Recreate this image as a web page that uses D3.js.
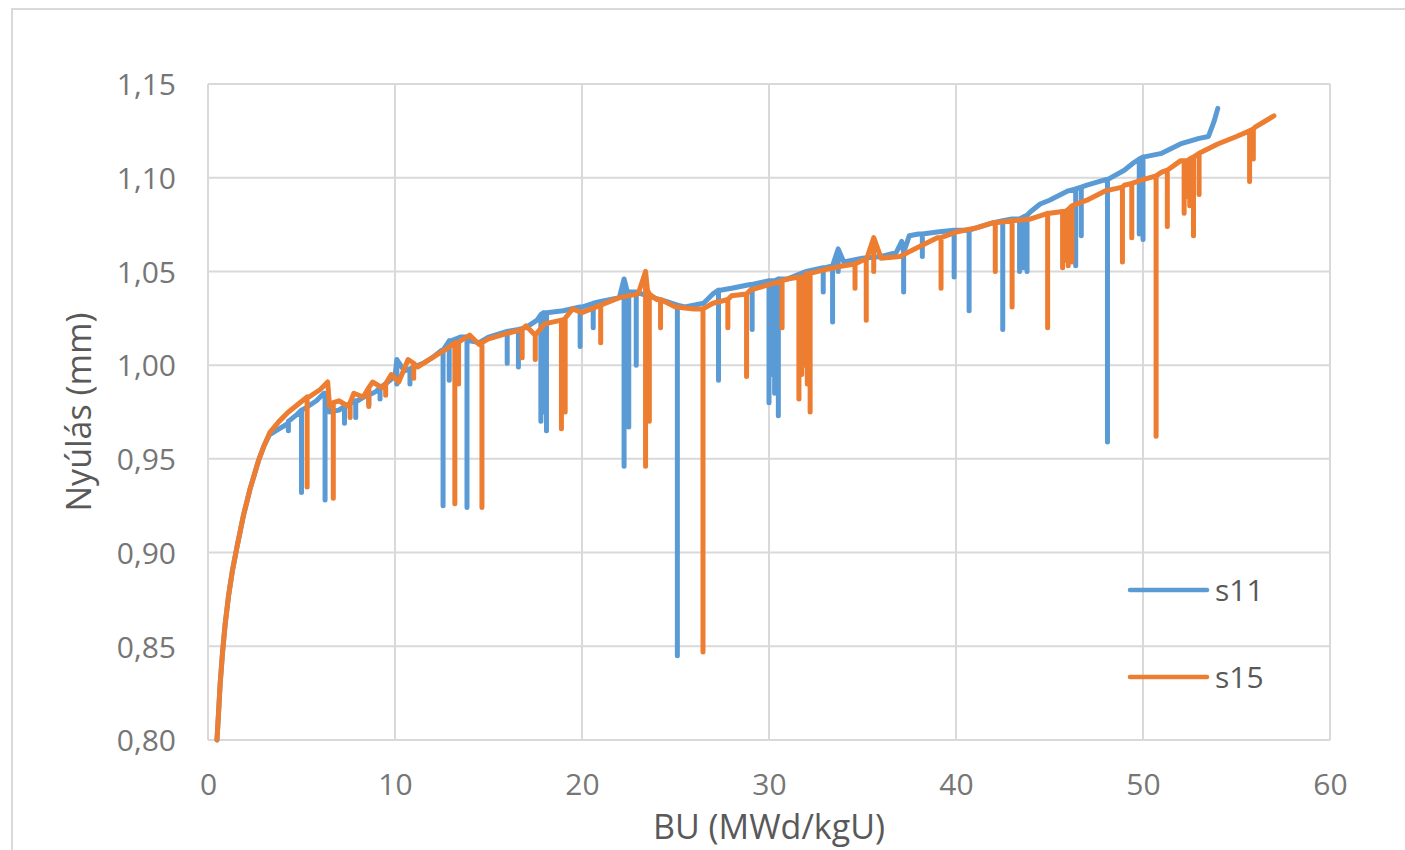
<!DOCTYPE html>
<html>
<head>
<meta charset="utf-8">
<script src="https://cdn.jsdelivr.net/npm/d3@7"></script>
<style>
    body { margin: 0; background: white; }
    text { font-family: "Open Sans", sans-serif; }
</style>
</head>
<body>
<div id="chart"></div>
<script>
// tick values
var xTicks = [0, 10, 20, 30, 40, 50, 60];
var yTicks = [0.80, 0.85, 0.90, 0.95, 1.00, 1.05, 1.10, 1.15];

var seriesNames = ["s11", "s15"];

// s11: smooth run of the curve, then the drops [x, top, bottom]
var s11Base = [
    [0.48, 0.800], [0.55, 0.812], [0.65, 0.830], [0.78, 0.847], [0.92, 0.862], [1.1, 0.877],
    [1.3, 0.890], [1.55, 0.903], [1.9, 0.920], [2.25, 0.934], [2.7, 0.949], [3.0, 0.957],
    [3.3, 0.963], [3.8, 0.966], [4.3, 0.969], [4.8, 0.974], [5.2, 0.977], [5.8, 0.981],
    [6.2, 0.985], [6.4, 0.984], [6.5, 0.975], [7.0, 0.976], [7.5, 0.979], [8.0, 0.981],
    [8.5, 0.984], [9.0, 0.986], [9.5, 0.990], [10.0, 0.994], [10.5, 0.997], [11.0, 0.999],
    [11.5, 1.001], [12.0, 1.004], [12.5, 1.008], [13.0, 1.013], [13.5, 1.015], [14.0, 1.013],
    [14.5, 1.012], [15.0, 1.015], [16.0, 1.018], [17.0, 1.020], [17.6, 1.024], [18.0, 1.028],
    [19.0, 1.029], [20.0, 1.031], [21.0, 1.034], [22.0, 1.036], [22.7, 1.039], [23.5, 1.037],
    [24.5, 1.034], [25.5, 1.031], [26.5, 1.033], [27.0, 1.038], [27.4, 1.040], [28.0, 1.041],
    [29.0, 1.043], [30.0, 1.045], [31.0, 1.046], [32.0, 1.050], [33.0, 1.052], [34.0, 1.055],
    [35.0, 1.057], [36.0, 1.058], [36.8, 1.060], [37.1, 1.066], [37.5, 1.069], [38.0, 1.070],
    [39.0, 1.071], [40.0, 1.072], [41.0, 1.073], [42.0, 1.076], [43.0, 1.078], [44.0, 1.082],
    [44.5, 1.086], [45.0, 1.088], [46.0, 1.093], [47.0, 1.096], [48.0, 1.099], [49.0, 1.104],
    [49.5, 1.108], [50.0, 1.111], [51.0, 1.113], [52.0, 1.118], [53.0, 1.121], [53.5, 1.122],
    [53.8, 1.130], [54.0, 1.137]
];
var s11Spikes = [
    [4.3, 0.970, 0.965], [5.0, 0.976, 0.932], [6.26, 0.985, 0.928], [7.3, 0.978, 0.969],
    [7.9, 0.981, 0.972], [8.6, 0.984, 0.979], [9.2, 0.988, 0.982], [10.1, 1.003, 0.990],
    [10.8, 0.998, 0.990], [12.57, 1.008, 0.925], [12.9, 1.013, 0.992], [13.85, 1.015, 0.924],
    [16.0, 1.018, 1.001], [16.6, 1.019, 0.999], [17.8, 1.027, 0.970], [17.95, 1.028, 0.975],
    [18.1, 1.028, 0.965], [19.9, 1.031, 1.010], [20.6, 1.033, 1.020], [22.25, 1.046, 0.946],
    [22.4, 1.040, 0.990], [22.5, 1.039, 0.967], [22.9, 1.039, 1.000], [25.1, 1.032, 0.845],
    [27.3, 1.040, 0.992], [29.1, 1.043, 1.019], [30.0, 1.045, 0.980], [30.15, 1.045, 0.995],
    [30.3, 1.045, 0.985], [30.5, 1.046, 0.973], [32.9, 1.052, 1.039], [33.4, 1.053, 1.023],
    [33.7, 1.062, 1.050], [37.2, 1.060, 1.039], [38.2, 1.070, 1.058], [39.9, 1.072, 1.047],
    [40.7, 1.072, 1.029], [42.5, 1.077, 1.019], [43.4, 1.078, 1.050], [43.6, 1.079, 1.052],
    [43.8, 1.080, 1.050], [46.4, 1.094, 1.053], [46.7, 1.095, 1.069], [48.1, 1.099, 0.959],
    [49.8, 1.110, 1.070], [50.0, 1.111, 1.067]
];

// s15
var s15Base = [
    [0.48, 0.800], [0.55, 0.812], [0.65, 0.830], [0.78, 0.847], [0.92, 0.862], [1.1, 0.877],
    [1.3, 0.890], [1.55, 0.903], [1.9, 0.920], [2.25, 0.934], [2.7, 0.949], [3.0, 0.957],
    [3.3, 0.964], [3.8, 0.970], [4.3, 0.975], [4.8, 0.979], [5.4, 0.983], [6.0, 0.987],
    [6.4, 0.991], [6.5, 0.978], [7.0, 0.981], [7.5, 0.978], [7.8, 0.985], [8.3, 0.983],
    [8.8, 0.991], [9.3, 0.988], [9.8, 0.995], [10.2, 0.991], [10.7, 1.003], [11.2, 0.999],
    [12.0, 1.004], [12.8, 1.009], [13.5, 1.013], [14.0, 1.016], [14.5, 1.011], [15.0, 1.014],
    [16.0, 1.017], [17.0, 1.021], [17.5, 1.016], [18.0, 1.022], [19.0, 1.024], [19.5, 1.030],
    [20.0, 1.028], [21.0, 1.032], [22.0, 1.036], [23.0, 1.038], [24.0, 1.035], [25.0, 1.031],
    [26.0, 1.030], [27.0, 1.033], [28.0, 1.037], [29.0, 1.040], [30.0, 1.043], [31.0, 1.046],
    [32.0, 1.049], [33.0, 1.051], [34.0, 1.053], [35.0, 1.056], [36.0, 1.057], [37.0, 1.058],
    [38.0, 1.063], [39.0, 1.068], [40.0, 1.071], [41.0, 1.073], [42.0, 1.076], [43.0, 1.077],
    [44.0, 1.078], [45.0, 1.081], [46.0, 1.083], [47.0, 1.088], [48.0, 1.093], [49.0, 1.096],
    [50.0, 1.099], [51.0, 1.103], [52.0, 1.109], [53.0, 1.113], [54.0, 1.118], [55.0, 1.122],
    [56.0, 1.127], [56.5, 1.130], [57.0, 1.133]
];
var s15Spikes = [
    [5.3, 0.983, 0.935], [6.7, 0.980, 0.929], [7.6, 0.980, 0.972], [8.6, 0.988, 0.978],
    [9.5, 0.990, 0.984], [11.0, 1.001, 0.993], [13.2, 1.012, 0.926], [13.4, 1.012, 0.990],
    [14.65, 1.012, 0.924], [16.8, 1.019, 1.004], [17.5, 1.016, 1.003], [18.9, 1.024, 0.966],
    [19.1, 1.025, 0.975], [21.0, 1.032, 1.012], [23.4, 1.050, 0.946], [23.5, 1.040, 0.990],
    [23.6, 1.038, 0.970], [24.2, 1.035, 1.020], [26.47, 1.030, 0.847], [27.8, 1.035, 1.020],
    [28.8, 1.038, 0.994], [30.7, 1.045, 1.020], [31.6, 1.047, 0.982], [31.75, 1.047, 0.995],
    [31.9, 1.047, 1.000], [32.05, 1.048, 0.990], [32.2, 1.049, 0.975], [34.6, 1.054, 1.041],
    [35.2, 1.056, 1.024], [35.6, 1.068, 1.050], [39.2, 1.068, 1.041], [42.1, 1.076, 1.050],
    [43.0, 1.077, 1.031], [44.9, 1.081, 1.020], [45.7, 1.082, 1.052], [45.85, 1.082, 1.056],
    [46.0, 1.083, 1.053], [46.2, 1.085, 1.055], [48.9, 1.095, 1.055], [49.4, 1.097, 1.068],
    [50.7, 1.101, 0.962], [51.3, 1.104, 1.074], [52.2, 1.109, 1.081], [52.35, 1.109, 1.090],
    [52.5, 1.110, 1.085], [52.7, 1.111, 1.069], [53.0, 1.113, 1.091], [55.7, 1.125, 1.098],
    [55.9, 1.126, 1.110]
];

var colors = ["#5b9bd5", "#ed7d31"];

var width = 1405, height = 850;
var plotLeft = 208, plotRight = 1330, plotTop = 84, plotBottom = 740;

var svg = d3.select("#chart")
    .append("svg")
    .attr("width", width)
    .attr("height", height);

svg.append("rect")
    .attr("width", width)
    .attr("height", height)
    .attr("fill", "white");

// chart frame
svg.append("rect")
    .attr("x", 12)
    .attr("y", 9)
    .attr("width", width + 20)
    .attr("height", height + 20)
    .attr("fill", "none")
    .attr("stroke", "#d9d9d9")
    .attr("stroke-width", 2);

var x = d3.scaleLinear().domain([0, 60]).range([plotLeft, plotRight]);
var y = d3.scaleLinear().domain([0.80, 1.15]).range([plotBottom, plotTop]);

// gridlines
svg.append("g")
    .selectAll("line")
    .data(yTicks)
    .join("line")
    .attr("x1", plotLeft)
    .attr("x2", plotRight)
    .attr("y1", d => y(d))
    .attr("y2", d => y(d))
    .attr("stroke", "#d9d9d9")
    .attr("stroke-width", 2);

svg.append("g")
    .selectAll("line")
    .data(xTicks)
    .join("line")
    .attr("x1", d => x(d))
    .attr("x2", d => x(d))
    .attr("y1", plotTop)
    .attr("y2", plotBottom)
    .attr("stroke", "#d9d9d9")
    .attr("stroke-width", 2);

// axes, only labels shown
var yAxis = svg.append("g")
    .attr("transform", "translate(" + (plotLeft - 32) + ",0)")
    .call(d3.axisLeft(y).tickValues(yTicks).tickSize(0)
        .tickFormat(d => d3.format(".2f")(d).replace(".", ",")));
var xAxis = svg.append("g")
    .attr("transform", "translate(0," + (plotBottom + 34) + ")")
    .call(d3.axisBottom(x).tickValues(xTicks).tickSize(0));

[xAxis, yAxis].forEach(a => {
    a.select(".domain").remove();
    a.selectAll("text")
        .attr("font-family", "'Open Sans', sans-serif")
        .attr("font-size", "30px")
        .attr("fill", "#767676");
});
yAxis.selectAll("text").attr("x", 0).attr("dy", "0.36em");
xAxis.selectAll("text").attr("y", 0).attr("dy", "0.71em");

// axis titles
svg.append("text")
    .attr("x", (plotLeft + plotRight) / 2)
    .attr("y", 839)
    .attr("text-anchor", "middle")
    .attr("font-size", "34px")
    .attr("fill", "#595959")
    .text("BU (MWd/kgU)");

svg.append("text")
    .attr("transform", "translate(91," + (plotTop + plotBottom) / 2 + ") rotate(-90)")
    .attr("text-anchor", "middle")
    .attr("font-size", "34px")
    .attr("fill", "#595959")
    .text("Nyúlás (mm)");

// merge the smooth run with its drops, each drop goes straight down and back
function buildPoints(base, spikes) {
    let pts = base.map(d => [d[0], d[1]]);
    spikes.forEach(s => {
        pts.push([s[0], s[1]], [s[0], s[2]], [s[0], s[1]]);
    });
    return pts.sort((a, b) => a[0] - b[0]);
}

var series = [buildPoints(s11Base, s11Spikes), buildPoints(s15Base, s15Spikes)];

var line = d3.line()
    .x(d => x(d[0]))
    .y(d => y(d[1]));

svg.append("g")
    .selectAll("path")
    .data(series)
    .join("path")
    .attr("fill", "none")
    .attr("stroke", (d, i) => colors[i])
    .attr("stroke-width", 5)
    .attr("stroke-linejoin", "round")
    .attr("stroke-linecap", "round")
    .attr("d", line);

// legend
var legend = svg.append("g")
    .selectAll("g")
    .data(seriesNames)
    .join("g")
    .attr("transform", (d, i) => "translate(1130," + (590 + i * 87) + ")");

legend.append("line")
    .attr("x1", 0)
    .attr("x2", 77)
    .attr("stroke", (d, i) => colors[i])
    .attr("stroke-width", 4.5)
    .attr("stroke-linecap", "round");

legend.append("text")
    .attr("x", 85)
    .attr("dy", "0.36em")
    .attr("font-size", "30px")
    .attr("fill", "#595959")
    .text(d => d);
</script>
</body>
</html>
